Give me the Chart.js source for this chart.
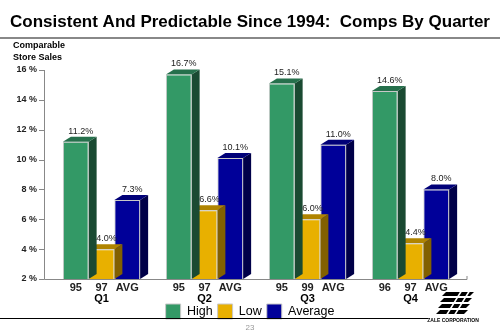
<!DOCTYPE html>
<html>
<head>
<meta charset="utf-8">
<script src="https://cdn.jsdelivr.net/npm/chart.js@4"></script>
<style>
  html, body { margin: 0; padding: 0; background: #fff; }
  #wrap { width: 500px; height: 333px; }
</style>
</head>
<body>
<div id="wrap"><canvas id="compChart" width="500" height="333"></canvas></div>
<script>
// data
var quarters = ['Q1', 'Q2', 'Q3', 'Q4'];
var highValues = [11.2, 15.7, 15.1, 14.6];
var lowValues = [4.0, 6.6, 6.0, 4.4];
var avgValues = [7.3, 10.1, 11.0, 8.0];
var highText = ['11.2%', '16.7%', '15.1%', '14.6%'];
var lowText = ['4.0%', '6.6%', '6.0%', '4.4%'];
var avgText = ['7.3%', '10.1%', '11.0%', '8.0%'];
var highYears = ['95', '95', '95', '96'];
var lowYears = ['97', '97', '99', '97'];
var avgYears = ['AVG', 'AVG', 'AVG', 'AVG'];
var yTicks = [2, 4, 6, 8, 10, 12, 14, 16];

var valueTexts = [highText, lowText, avgText];
var yearTexts = [highYears, lowYears, avgYears];
var faceColors = [
    { top: 'rgb(38,112,76)', side: 'rgb(26,74,50)' },
    { top: 'rgb(176,132,0)', side: 'rgb(130,96,0)' },
    { top: 'rgb(0,0,120)', side: 'rgb(0,0,72)' }
];
var DX = 8, DY = 5;

// 3D top/side faces, drawn just before each dataset's front faces
var depthPlugin = {
    id: 'depth',
    beforeDatasetDraw: function(chart, args) {
        var ctx = chart.ctx;
        var meta = chart.getDatasetMeta(args.index);
        var c = faceColors[args.index];
        ctx.save();
        meta.data.forEach(function(bar) {
            var l = bar.x - bar.width / 2, r = bar.x + bar.width / 2;
            var t = bar.y, b = Math.min(bar.base, chart.chartArea.bottom);
            ctx.fillStyle = c.side;
            ctx.beginPath();
            ctx.moveTo(r, t); ctx.lineTo(r + DX, t - DY);
            ctx.lineTo(r + DX, b - DY); ctx.lineTo(r, b);
            ctx.closePath(); ctx.fill();
            ctx.fillStyle = c.top;
            ctx.beginPath();
            ctx.moveTo(l, t); ctx.lineTo(l + DX, t - DY);
            ctx.lineTo(r + DX, t - DY); ctx.lineTo(r, t);
            ctx.closePath(); ctx.fill();
        });
        ctx.restore();
    },
    afterDraw: function(chart) {
        var ctx = chart.ctx;
        var area = chart.chartArea;
        var y = chart.scales.y;
        var x = chart.scales.x;
        ctx.save();
        // axes
        ctx.strokeStyle = '#888';
        ctx.lineWidth = 1;
        ctx.beginPath();
        ctx.moveTo(44.5, y.getPixelForValue(16));
        ctx.lineTo(44.5, area.bottom + 0.5);
        ctx.lineTo(467, area.bottom + 0.5);
        ctx.lineTo(467, area.bottom - 3);
        yTicks.forEach(function(v) {
            var py = Math.round(y.getPixelForValue(v)) + 0.5;
            ctx.moveTo(39, py); ctx.lineTo(44.5, py);
        });
        ctx.stroke();

        // value labels and year labels
        ctx.fillStyle = '#222';
        ctx.textAlign = 'center';
        for (var d = 0; d < 3; d++) {
            var meta = chart.getDatasetMeta(d);
            meta.data.forEach(function(bar, i) {
                ctx.font = '9px Arial';
                ctx.textBaseline = 'bottom';
                ctx.fillText(valueTexts[d][i], bar.x + 5, bar.y - 6);
                ctx.font = 'bold 11px Arial';
                ctx.textBaseline = 'middle';
                ctx.fillText(yearTexts[d][i], bar.x, area.bottom + 9);
            });
        }
        // quarter labels under each group
        ctx.fillStyle = '#000';
        quarters.forEach(function(q, i) {
            ctx.fillText(q, x.getPixelForValue(i), area.bottom + 20);
        });

        // title rule and footer rule
        ctx.fillStyle = '#888';
        ctx.fillRect(0, 37, 500, 2);
        ctx.fillStyle = '#000';
        ctx.fillRect(0, 318, 428, 1);

        // y axis title
        ctx.textAlign = 'left';
        ctx.textBaseline = 'middle';
        ctx.font = 'bold 9px Arial';
        ctx.fillText('Comparable', 13, 46);
        ctx.fillText('Store Sales', 13, 58);

        // page number
        ctx.fillStyle = '#999';
        ctx.font = '8px Arial';
        ctx.textAlign = 'center';
        ctx.fillText('23', 250, 328);

        // company logo
        ctx.fillStyle = '#000';
        for (var k = 0; k < 4; k++) {
            var ty = 292 + k * 6;
            ctx.beginPath();
            ctx.moveTo(446 - k * 2, ty);
            ctx.lineTo(474 - k * 2, ty);
            ctx.lineTo(470 - k * 2, ty + 4);
            ctx.lineTo(442 - k * 2, ty + 4);
            ctx.closePath(); ctx.fill();
        }
        ctx.strokeStyle = '#fff';
        ctx.lineWidth = 1.5;
        ctx.beginPath();
        ctx.moveTo(462, 290); ctx.lineTo(446, 316);
        ctx.moveTo(470, 290); ctx.lineTo(454, 316);
        ctx.stroke();
        ctx.font = 'bold 5px Arial';
        ctx.fillText('ZALE CORPORATION', 453, 321);
        ctx.restore();
    }
};

var ctx = document.getElementById('compChart').getContext('2d');
var myChart = new Chart(ctx, {
    type: 'bar',
    data: {
        labels: quarters,
        datasets: [{
            label: 'High',
            data: highValues,
            backgroundColor: 'rgb(51,153,102)',
            borderColor: '#c8c8c8',
            borderWidth: 1
        }, {
            label: 'Low',
            data: lowValues,
            backgroundColor: 'rgb(232,176,0)',
            borderColor: '#c8c8c8',
            borderWidth: 1
        }, {
            label: 'Average',
            data: avgValues,
            backgroundColor: 'rgb(0,0,153)',
            borderColor: '#c8c8c8',
            borderWidth: 1
        }]
    },
    options: {
        responsive: false,
        animation: false,
        layout: {
            padding: { top: 0, right: 0, bottom: 4, left: 0 }
        },
        datasets: {
            bar: { categoryPercentage: 0.75, barPercentage: 1.0, base: 2 }
        },
        plugins: {
            title: {
                display: true,
                text: 'Consistent And Predictable Since 1994:  Comps By Quarter',
                color: '#000',
                font: { family: 'Arial', size: 17, weight: 'bold' },
                padding: { top: 12, bottom: 37.6 }
            },
            legend: {
                position: 'bottom',
                labels: {
                    boxWidth: 15,
                    boxHeight: 15,
                    padding: 5,
                    color: '#000',
                    font: { family: 'Arial', size: 12.5 }
                }
            },
            tooltip: { enabled: false }
        },
        scales: {
            x: {
                grid: { display: false, drawTicks: false },
                border: { display: false },
                ticks: { display: false },
                afterFit: function(scale) { scale.height = 20; }
            },
            y: {
                min: 2,
                max: 16,
                grid: { display: false, drawTicks: false },
                border: { display: false },
                afterFit: function(scale) { scale.width = 50; },
                afterBuildTicks: function(scale) {
                    scale.ticks = yTicks.map(function(v) { return { value: v }; });
                },
                ticks: {
                    padding: 13,
                    color: '#222',
                    font: { family: 'Arial', size: 9, weight: 'bold' },
                    callback: function(v) { return v + ' %'; }
                }
            },
            // empty right-hand margin so the plot ends where the original does
            spacer: {
                type: 'linear',
                position: 'right',
                grid: { display: false },
                border: { display: false },
                ticks: { display: false },
                afterFit: function(scale) { scale.width = 38; }
            }
        }
    },
    plugins: [depthPlugin]
});
</script>
</body>
</html>
